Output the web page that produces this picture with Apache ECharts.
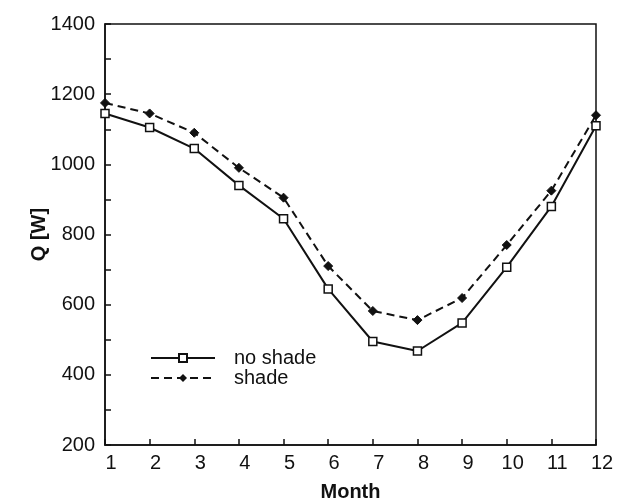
<!DOCTYPE html>
<html>
<head>
<meta charset="UTF-8">
<title>Q by month</title>
<style>
  html, body { margin: 0; padding: 0; background: #fff; }
  #chart { width: 618px; height: 503px; }
</style>
</head>
<body>
<div id="chart"></div>
<script src="https://cdn.jsdelivr.net/npm/echarts@6/dist/echarts.min.js"></script>
<script>
var months = [1, 2, 3, 4, 5, 6, 7, 8, 9, 10, 11, 12];
var noShade = [1145, 1105, 1045, 940, 845, 645, 495, 468, 548, 707, 880, 1110];
var shade = [1175, 1145, 1090, 990, 905, 710, 582, 556, 619, 770, 925, 1140];
var yTicks = [200, 400, 600, 800, 1000, 1200, 1400];

function pairs(vals) {
  return months.map(function (m, i) { return [m, vals[i]]; });
}

var font = 'Liberation Sans, Arial, Helvetica, sans-serif';
var chart = echarts.init(document.getElementById('chart'));

chart.setOption({
  animation: false,
  backgroundColor: '#fff',
  textStyle: { fontFamily: font, color: '#111' },
  grid: {
    left: 105, right: 22, top: 24, bottom: 58,
    outerBoundsMode: 'none',
    show: true, borderColor: '#111', borderWidth: 1.5, backgroundColor: 'transparent'
  },
  legend: {
    orient: 'vertical',
    left: 145, top: 343,
    itemWidth: 64, itemHeight: 10,
    itemGap: 0,
    textStyle: { fontFamily: font, fontSize: 20, color: '#111', padding: [0, 0, 0, 14] },
    data: ['no shade', 'shade']
  },
  xAxis: {
    type: 'value',
    min: 1, max: 12, interval: 1,
    name: 'Month',
    nameLocation: 'middle',
    nameGap: 37,
    nameTextStyle: { fontFamily: font, fontSize: 20, fontWeight: 'bold', color: '#111' },
    axisLine: { lineStyle: { color: '#111', width: 1.5 } },
    axisTick: { inside: true, length: 6, lineStyle: { color: '#111', width: 1.5 } },
    axisLabel: { fontSize: 20, color: '#111', margin: 8, padding: [0, 0, 0, 12] },
    splitLine: { show: false }
  },
  yAxis: {
    type: 'value',
    min: yTicks[0], max: yTicks[yTicks.length - 1], interval: 200,
    name: 'Q [W]',
    nameLocation: 'middle',
    nameRotate: 90,
    nameGap: 56,
    nameMoveOverlap: false,
    nameTextStyle: { fontFamily: font, fontSize: 20, fontWeight: 'bold', color: '#111' },
    axisLine: { lineStyle: { color: '#111', width: 1.5 } },
    axisTick: { inside: true, length: 6, lineStyle: { color: '#111', width: 1.5 } },
    minorTick: { show: true, splitNumber: 2, length: 6, lineStyle: { color: '#111', width: 1.5 } },
    axisLabel: { fontSize: 20, color: '#111', margin: 10, formatter: function (v) { return String(v); } },
    splitLine: { show: false }
  },
  series: [
    {
      name: 'no shade',
      type: 'line',
      data: pairs(noShade),
      symbol: 'rect',
      symbolSize: 8,
      itemStyle: { color: '#fff', borderColor: '#111', borderWidth: 1.5 },
      lineStyle: { color: '#111', width: 2 },
      z: 3
    },
    {
      name: 'shade',
      type: 'line',
      data: pairs(shade),
      symbol: 'diamond',
      symbolSize: 9,
      itemStyle: { color: '#111', borderColor: '#111' },
      lineStyle: { color: '#111', width: 2, type: [8, 5] },
      z: 2
    }
  ]
});
</script>
</body>
</html>
